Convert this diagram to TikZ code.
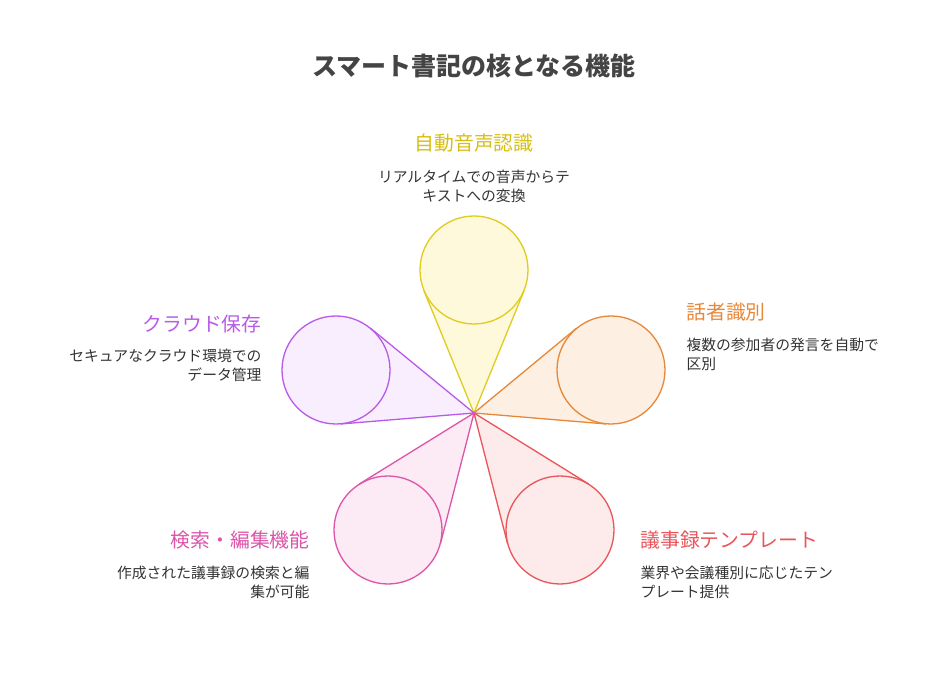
\documentclass[tikz,border=0pt]{standalone}
\usepackage{fontspec}
\setmainfont{Noto Sans CJK JP}
\usetikzlibrary{calc}
\definecolor{ylwline}{HTML}{E0CB1E}\definecolor{ylwfill}{HTML}{FEF9DB}\definecolor{ylwtext}{HTML}{D6BE12}
\definecolor{orgline}{HTML}{E6883A}\definecolor{orgfill}{HTML}{FDF0E2}
\definecolor{redline}{HTML}{E8555A}\definecolor{redfill}{HTML}{FDEAEA}
\definecolor{pnkline}{HTML}{DC55A8}\definecolor{pnkfill}{HTML}{FCEAF5}
\definecolor{prpline}{HTML}{B85BE8}\definecolor{prpfill}{HTML}{F8EEFD}
\definecolor{titlegray}{HTML}{444444}
\begin{document}
\begin{tikzpicture}[x=1pt,y=-1pt]
\tikzset{petal/.style = {shape=circle, minimum size=108pt, inner sep=0pt}}
\tikzset{head/.style = {font=\fontsize{19.8}{23}\selectfont}}
\tikzset{desc/.style = {font=\fontsize{14.8}{19}\selectfont, text=black!80}}
\useasboundingbox (0,0) rectangle (948,684);
\node[font=\bfseries\fontsize{25}{28}\selectfont, text=titlegray] (title) at (474,66) {スマート書記の核となる機能};
\coordinate (o) at (474,413);

% petals
\foreach \name/\x/\y/\ln/\fl in {asr/474/270/ylwline/ylwfill, spk/611/370/orgline/orgfill,
    tpl/560/530/redline/redfill, srch/388/530/pnkline/pnkfill, cld/336/370/prpline/prpfill}{
  \node[petal] (\name) at (\x,\y) {};
  \coordinate (\name a) at (tangent cs:node=\name,point={(o)},solution=1);
  \coordinate (\name b) at (tangent cs:node=\name,point={(o)},solution=2);
  \fill[\fl] (o) -- (\name a) -- (\name b) -- cycle;
  \fill[\fl] (\name) circle (54pt);
  \draw[\ln, line width=1.3pt] (\name a) -- (o) -- (\name b);
  \draw[\ln, line width=1.3pt] (\name) circle (54pt);
}

% labels
\node[head, text=ylwtext] (asrh) at (474,143) {自動音声認識};
\node[desc, align=center] (asrd) at (474,186) {リアルタイムでの音声からテ\\キストへの変換};
\node[head, text=orgline, anchor=west] (spkh) at (683,312) {話者識別};
\node[desc, align=left, anchor=north west] (spkd) at (683,335) {複数の参加者の発言を自動で\\区別};
\node[head, text=redline, anchor=west] (tplh) at (637,540) {議事録テンプレート};
\node[desc, align=left, anchor=north west] (tpld) at (637,563) {業界や会議種別に応じたテン\\プレート提供};
\node[head, text=pnkline, anchor=east] (srchh) at (313,540) {検索・編集機能};
\node[desc, align=right, anchor=north east] (srchd) at (313,563) {作成された議事録の検索と編\\集が可能};
\node[head, text=prpline, anchor=east] (cldh) at (265,324) {クラウド保存};
\node[desc, align=right, anchor=north east] (cldd) at (265,346) {セキュアなクラウド環境での\\データ管理};
\end{tikzpicture}
\end{document}
